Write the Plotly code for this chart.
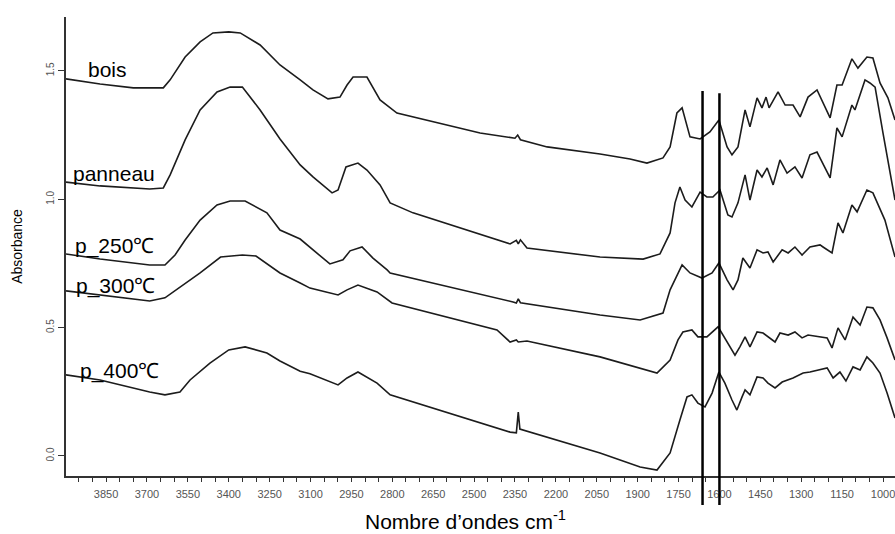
import plotly.graph_objects as go

# ---------------- data ----------------
bois_wn = [3997, 3872, 3750, 3640, 3615, 3560, 3505, 3458, 3400, 3358, 3285, 3212, 3138, 3091, 3036, 2992,
           2966, 2944, 2893, 2845, 2783, 2724, 2478, 2350, 2340, 2330, 2232, 2038, 1928, 1866, 1807, 1781,
           1756, 1737, 1719, 1708, 1671, 1635, 1602, 1572, 1554, 1532, 1506, 1488, 1462, 1444, 1429, 1418,
           1385, 1359, 1330, 1304, 1275, 1242, 1194, 1169, 1150, 1114, 1092, 1059, 1037, 1011, 982, 956]
bois_abs = [1.469, 1.449, 1.434, 1.434, 1.465, 1.554, 1.613, 1.648, 1.652, 1.648, 1.601, 1.523, 1.465, 1.426,
            1.391, 1.398, 1.445, 1.476, 1.476, 1.387, 1.336, 1.321, 1.258, 1.238, 1.250, 1.232, 1.204, 1.176,
            1.157, 1.141, 1.161, 1.204, 1.336, 1.356, 1.282, 1.243, 1.235, 1.262, 1.309, 1.204, 1.173, 1.204,
            1.348, 1.282, 1.395, 1.356, 1.398, 1.356, 1.418, 1.367, 1.367, 1.321, 1.398, 1.426, 1.317, 1.445,
            1.445, 1.547, 1.511, 1.554, 1.550, 1.453, 1.395, 1.309]

panneau_wn = [3997, 3872, 3690, 3640, 3615, 3560, 3505, 3443, 3395, 3350, 3285, 3212, 3138, 3091, 3021, 2999,
              2970, 2926, 2893, 2845, 2808, 2724, 2368, 2345, 2338, 2330, 2306, 2038, 1880, 1818, 1781, 1763,
              1745, 1726, 1701, 1671, 1646, 1624, 1598, 1569, 1554, 1532, 1506, 1488, 1462, 1444, 1425, 1403,
              1378, 1352, 1323, 1297, 1268, 1242, 1194, 1169, 1150, 1114, 1103, 1066, 1048, 1029, 1000, 974, 956]
panneau_abs = [1.067, 1.052, 1.040, 1.044, 1.095, 1.231, 1.348, 1.418, 1.437, 1.437, 1.348, 1.235, 1.134,
               1.087, 1.025, 1.036, 1.126, 1.141, 1.114, 1.056, 0.986, 0.947, 0.826, 0.840, 0.826, 0.842,
               0.810, 0.775, 0.767, 0.787, 0.869, 0.986, 1.048, 0.997, 0.970, 1.028, 1.009, 1.009, 1.036,
               0.939, 0.931, 0.986, 1.095, 0.997, 1.114, 1.087, 1.122, 1.056, 1.153, 1.102, 1.126, 1.083,
               1.173, 1.184, 1.083, 1.278, 1.243, 1.367, 1.348, 1.465, 1.453, 1.437, 1.258, 1.102, 0.997]

p250_wn = [3997, 3872, 3690, 3634, 3597, 3560, 3505, 3443, 3395, 3340, 3260, 3212, 3138, 3091, 3029, 2981,
           2955, 2911, 2871, 2819, 2808, 2357, 2345, 2338, 2330, 2038, 1891, 1807, 1781, 1737, 1708, 1664,
           1627, 1602, 1572, 1550, 1532, 1514, 1488, 1462, 1440, 1422, 1403, 1370, 1348, 1323, 1297, 1268,
           1231, 1220, 1187, 1165, 1147, 1114, 1095, 1059, 1037, 993, 956]
p250_abs = [0.787, 0.767, 0.744, 0.744, 0.783, 0.841, 0.919, 0.978, 0.993, 0.993, 0.947, 0.880, 0.845, 0.803,
            0.748, 0.764, 0.799, 0.814, 0.771, 0.725, 0.713, 0.600, 0.596, 0.612, 0.597, 0.549, 0.530, 0.557,
            0.647, 0.744, 0.713, 0.693, 0.713, 0.752, 0.686, 0.647, 0.686, 0.771, 0.732, 0.803, 0.791, 0.795,
            0.756, 0.803, 0.791, 0.814, 0.783, 0.814, 0.822, 0.814, 0.791, 0.908, 0.869, 0.978, 0.951, 1.036,
            1.025, 0.919, 0.775]

p300_wn = [3997, 3872, 3690, 3634, 3567, 3505, 3430, 3350, 3300, 3212, 3138, 3102, 2999, 2966, 2926, 2856,
           2801, 2416, 2368, 2345, 2338, 2306, 2038, 1891, 1829, 1781, 1752, 1734, 1701, 1679, 1646, 1605,
           1572, 1543, 1525, 1506, 1488, 1462, 1440, 1422, 1396, 1378, 1348, 1323, 1297, 1275, 1231, 1205,
           1187, 1165, 1139, 1110, 1084, 1059, 1037, 1011, 985, 956]
p300_abs = [0.643, 0.627, 0.604, 0.616, 0.666, 0.713, 0.775, 0.783, 0.779, 0.713, 0.674, 0.654, 0.627, 0.647,
            0.666, 0.639, 0.596, 0.491, 0.444, 0.452, 0.444, 0.448, 0.386, 0.343, 0.323, 0.374, 0.452, 0.483,
            0.491, 0.464, 0.464, 0.503, 0.444, 0.393, 0.425, 0.464, 0.425, 0.483, 0.479, 0.464, 0.444, 0.479,
            0.471, 0.483, 0.460, 0.471, 0.464, 0.460, 0.421, 0.499, 0.452, 0.541, 0.510, 0.580, 0.577, 0.530,
            0.460, 0.374]

p400_wn = [3997, 3872, 3690, 3634, 3579, 3542, 3469, 3400, 3340, 3260, 3212, 3138, 3102, 2999, 2966, 2926,
           2856, 2808, 2368, 2345, 2338, 2332, 2038, 1891, 1829, 1781, 1745, 1719, 1701, 1679, 1653, 1627,
           1602, 1580, 1554, 1536, 1517, 1506, 1488, 1462, 1440, 1422, 1396, 1370, 1330, 1293, 1268, 1231,
           1205, 1183, 1158, 1136, 1110, 1084, 1059, 1037, 1011, 985, 956]
p400_abs = [0.316, 0.296, 0.249, 0.238, 0.249, 0.296, 0.362, 0.413, 0.425, 0.401, 0.370, 0.330, 0.320, 0.277,
            0.304, 0.327, 0.284, 0.238, 0.093, 0.090, 0.171, 0.105, 0.012, -0.043, -0.055, 0.012, 0.140, 0.230,
            0.238, 0.206, 0.191, 0.245, 0.327, 0.284, 0.218, 0.179, 0.230, 0.257, 0.238, 0.308, 0.304, 0.284,
            0.265, 0.288, 0.304, 0.323, 0.327, 0.335, 0.343, 0.304, 0.327, 0.292, 0.347, 0.335, 0.386, 0.362,
            0.323, 0.245, 0.148]

series_names = ["bois", "panneau", "p_250℃", "p_300℃", "p_400℃"]
series_wn = [bois_wn, panneau_wn, p250_wn, p300_wn, p400_wn]
series_abs = [bois_abs, panneau_abs, p250_abs, p300_abs, p400_abs]

# label anchor positions (wavenumber, absorbance)
label_wn = [3923, 3979, 3971, 3968, 3953]
label_abs = [1.507, 1.099, 0.818, 0.662, 0.331]

marker_wn = [1662, 1600]          # vertical reference lines
y_ticks = [0.0, 0.5, 1.0, 1.5]

FONT = "Liberation Sans, Arial, sans-serif"

fig = go.Figure()
for name, wn, ab in zip(series_names, series_wn, series_abs):
    fig.add_trace(go.Scatter(x=wn, y=ab, mode="lines", name=name,
                             line=dict(color="#1c1c1c", width=1.6), showlegend=False))

for name, wn, ab in zip(series_names, label_wn, label_abs):
    fig.add_annotation(x=wn, y=ab, xref="x", yref="y", text=name, showarrow=False,
                       xanchor="left", yanchor="middle",
                       font=dict(family=FONT, size=21, color="black"))

# x-axis title (slightly left of centre, as in the original)
fig.add_annotation(x=0.4825, y=-0.096, xref="paper", yref="paper", showarrow=False,
                   xanchor="center", yanchor="middle",
                   text="Nombre d’ondes cm<sup>-1</sup>",
                   font=dict(family=FONT, size=21, color="black"))

for wn, top in zip(marker_wn, [0.839, 0.834]):
    fig.add_shape(type="line", xref="x", yref="paper", x0=wn, x1=wn, y0=-0.063, y1=top,
                  line=dict(color="black", width=2.5), layer="above")

fig.update_layout(
    width=895, height=534,
    margin=dict(l=66, r=0, t=17, b=58),
    paper_bgcolor="white", plot_bgcolor="white",
    font=dict(family=FONT),
    xaxis=dict(range=[3997, 956], tick0=1000, dtick=150, ticks="outside", ticklen=4,
               tickwidth=1.2, tickcolor="#333", showgrid=False, zeroline=False, automargin=False,
               showline=True, linecolor="#333", linewidth=1.8, ticklabelstandoff=3,
               ticklabeloverflow="allow",
               tickfont=dict(family=FONT, size=11, color="#555"),
               minor=dict(dtick=50, ticks="outside", ticklen=4, tickwidth=1.2, tickcolor="#333", showgrid=False)),
    yaxis=dict(range=[-0.078, 1.710], tickvals=y_ticks, tickformat=".1f", ticks="outside",
               ticklen=6, tickwidth=1.2, tickcolor="#333", tickangle=-90, automargin=False,
               showgrid=False, zeroline=False, showline=True, linecolor="#333", linewidth=1.8,
               tickfont=dict(family=FONT, size=10, color="#555"),
               title=dict(text="Absorbance", standoff=19,
                          font=dict(family=FONT, size=14, color="black"))),
)

fig.write_html("out.html", config={"displayModeBar": False},
               post_script="document.body.style.margin='0';")
